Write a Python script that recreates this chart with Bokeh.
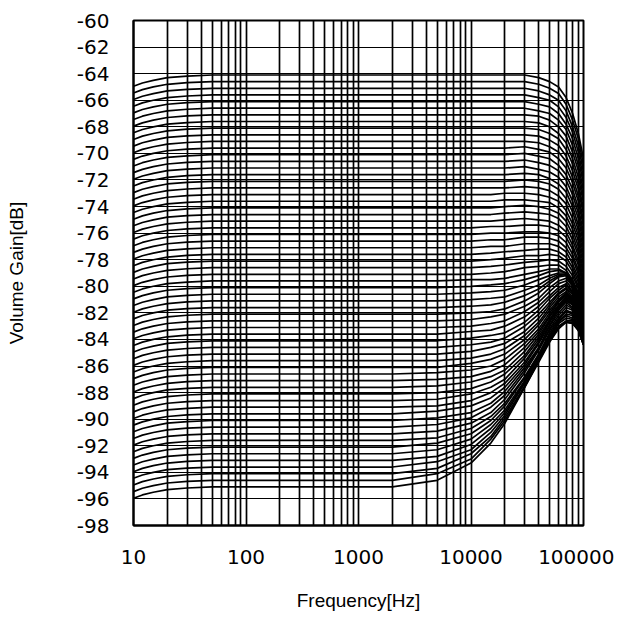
from bokeh.plotting import figure
from bokeh.models import FixedTicker, Range1d, ColumnDataSource
from bokeh.embed import file_html
from bokeh.resources import INLINE

# flat (mid-band) gain of every volume step, dB
levels = [-64.1, -64.6, -65.1, -65.6, -66.1, -66.6, -67.1, -67.6, -68.1, -68.6,
          -69.1, -69.6, -70.1, -70.6, -71.1, -71.6, -72.1, -72.6, -73.1, -73.6,
          -74.1, -74.6, -75.1, -75.6, -76.1, -76.6, -77.1, -77.6, -78.1, -78.6,
          -79.1, -79.6, -80.1, -80.6, -81.1, -81.6, -82.1, -82.6, -83.1, -83.6,
          -84.1, -84.6, -85.1, -85.6, -86.1, -86.6, -87.1, -87.6, -88.1, -88.6,
          -89.1, -89.6, -90.1, -90.6, -91.1, -91.6, -92.1, -92.6, -93.1, -93.6,
          -94.1, -94.6, -95.1]

lf_freqs = [10, 12, 15, 20, 30, 50]
lf_offsets = [-0.85, -0.6, -0.4, -0.2, -0.08, 0.0]

mid_freqs = [2000]

# high-frequency part of every curve, dB
hf_freqs = [5000, 10000, 15000, 20000, 30000, 40000, 50000, 60000, 70000, 80000, 90000, 100000]
hf_gain = [
    [-64.1, -64.1, -64.1, -64.1, -64.1, -64.3, -64.6, -65.0, -65.8, -67.0, -68.5, -70.4],
    [-64.6, -64.6, -64.6, -64.6, -64.6, -64.8, -65.1, -65.5, -66.3, -67.5, -68.9, -70.9],
    [-65.1, -65.1, -65.1, -65.1, -65.1, -65.3, -65.6, -66.0, -66.8, -68.0, -69.4, -71.4],
    [-65.6, -65.6, -65.6, -65.6, -65.6, -65.8, -66.0, -66.5, -67.3, -68.4, -69.9, -71.9],
    [-66.1, -66.1, -66.1, -66.1, -66.1, -66.3, -66.5, -67.0, -67.8, -68.9, -70.4, -72.3],
    [-66.6, -66.6, -66.6, -66.6, -66.6, -66.8, -67.0, -67.5, -68.2, -69.4, -70.9, -72.8],
    [-67.1, -67.1, -67.1, -67.1, -67.1, -67.2, -67.5, -68.0, -68.7, -69.9, -71.3, -73.3],
    [-67.6, -67.6, -67.6, -67.6, -67.6, -67.7, -68.0, -68.5, -69.2, -70.4, -71.8, -73.7],
    [-68.1, -68.1, -68.1, -68.1, -68.1, -68.2, -68.5, -68.9, -69.7, -70.8, -72.3, -74.2],
    [-68.6, -68.6, -68.6, -68.6, -68.6, -68.7, -69.0, -69.4, -70.2, -71.3, -72.7, -74.6],
    [-69.1, -69.1, -69.1, -69.1, -69.1, -69.2, -69.5, -69.9, -70.6, -71.8, -73.2, -75.1],
    [-69.6, -69.6, -69.6, -69.6, -69.5, -69.7, -69.9, -70.4, -71.1, -72.2, -73.6, -75.5],
    [-70.1, -70.1, -70.1, -70.1, -70.0, -70.2, -70.4, -70.9, -71.6, -72.7, -74.1, -76.0],
    [-70.6, -70.6, -70.6, -70.6, -70.5, -70.7, -70.9, -71.3, -72.0, -73.1, -74.5, -76.4],
    [-71.1, -71.1, -71.1, -71.1, -71.0, -71.2, -71.4, -71.8, -72.5, -73.6, -74.9, -76.8],
    [-71.6, -71.6, -71.6, -71.6, -71.5, -71.6, -71.9, -72.3, -72.9, -74.0, -75.4, -77.2],
    [-72.1, -72.1, -72.1, -72.1, -72.0, -72.1, -72.3, -72.7, -73.4, -74.4, -75.8, -77.6],
    [-72.6, -72.6, -72.6, -72.6, -72.5, -72.6, -72.8, -73.2, -73.8, -74.9, -76.2, -78.0],
    [-73.1, -73.1, -73.1, -73.0, -73.0, -73.1, -73.3, -73.6, -74.3, -75.3, -76.6, -78.4],
    [-73.6, -73.6, -73.6, -73.5, -73.5, -73.6, -73.7, -74.1, -74.7, -75.7, -77.0, -78.8],
    [-74.1, -74.1, -74.1, -74.0, -73.9, -74.0, -74.2, -74.5, -75.1, -76.1, -77.4, -79.1],
    [-74.6, -74.6, -74.6, -74.5, -74.4, -74.5, -74.6, -74.9, -75.5, -76.5, -77.7, -79.5],
    [-75.1, -75.1, -75.1, -75.0, -74.9, -75.0, -75.1, -75.4, -75.9, -76.9, -78.1, -79.8],
    [-75.6, -75.6, -75.5, -75.5, -75.4, -75.4, -75.5, -75.8, -76.3, -77.2, -78.4, -80.1],
    [-76.1, -76.1, -76.0, -76.0, -75.9, -75.9, -76.0, -76.2, -76.7, -77.6, -78.8, -80.4],
    [-76.6, -76.6, -76.5, -76.5, -76.3, -76.3, -76.4, -76.6, -77.1, -77.9, -79.1, -80.7],
    [-77.1, -77.1, -77.0, -77.0, -76.8, -76.8, -76.8, -77.0, -77.4, -78.3, -79.4, -81.0],
    [-77.6, -77.6, -77.5, -77.4, -77.3, -77.2, -77.2, -77.4, -77.8, -78.6, -79.7, -81.3],
    [-78.1, -78.1, -78.0, -77.9, -77.7, -77.7, -77.6, -77.7, -78.1, -78.9, -80.0, -81.5],
    [-78.6, -78.6, -78.5, -78.4, -78.2, -78.1, -78.0, -78.1, -78.5, -79.2, -80.2, -81.8],
    [-79.1, -79.1, -79.0, -78.9, -78.6, -78.5, -78.4, -78.4, -78.8, -79.5, -80.5, -82.0],
    [-79.6, -79.5, -79.5, -79.4, -79.1, -78.9, -78.7, -78.7, -79.0, -79.6, -80.6, -82.2],
    [-80.1, -80.0, -79.9, -79.8, -79.5, -79.2, -78.9, -78.8, -79.0, -79.7, -80.8, -82.3],
    [-80.6, -80.5, -80.4, -80.3, -79.9, -79.5, -79.2, -79.0, -79.0, -79.7, -80.9, -82.5],
    [-81.1, -81.0, -80.9, -80.8, -80.3, -79.9, -79.4, -79.1, -79.1, -79.8, -81.0, -82.6],
    [-81.6, -81.5, -81.4, -81.2, -80.7, -80.2, -79.6, -79.2, -79.1, -79.9, -81.0, -82.7],
    [-82.1, -82.0, -81.9, -81.7, -81.1, -80.5, -79.8, -79.3, -79.2, -79.9, -81.1, -82.9],
    [-82.6, -82.5, -82.3, -82.1, -81.5, -80.9, -80.1, -79.6, -79.4, -80.0, -81.3, -83.0],
    [-83.1, -83.0, -82.8, -82.6, -81.9, -81.2, -80.4, -79.8, -79.6, -80.2, -81.4, -83.1],
    [-83.6, -83.4, -83.3, -83.0, -82.3, -81.5, -80.7, -80.1, -79.8, -80.4, -81.5, -83.2],
    [-84.1, -83.9, -83.7, -83.5, -82.7, -81.8, -80.9, -80.3, -79.9, -80.5, -81.7, -83.3],
    [-84.6, -84.4, -84.2, -83.9, -83.0, -82.1, -81.2, -80.5, -80.1, -80.6, -81.8, -83.4],
    [-85.1, -84.9, -84.6, -84.3, -83.4, -82.4, -81.4, -80.6, -80.2, -80.8, -81.9, -83.5],
    [-85.6, -85.4, -85.1, -84.7, -83.7, -82.7, -81.6, -80.8, -80.4, -80.9, -82.0, -83.6],
    [-86.1, -85.8, -85.5, -85.1, -84.0, -82.9, -81.8, -81.0, -80.5, -81.0, -82.0, -83.7],
    [-86.5, -86.3, -86.0, -85.5, -84.3, -83.2, -82.0, -81.1, -80.6, -81.1, -82.1, -83.7],
    [-87.0, -86.8, -86.4, -85.9, -84.6, -83.4, -82.2, -81.2, -80.7, -81.1, -82.2, -83.8],
    [-87.5, -87.2, -86.8, -86.3, -84.9, -83.6, -82.3, -81.4, -80.8, -81.2, -82.3, -83.8],
    [-88.0, -87.7, -87.2, -86.6, -85.2, -83.8, -82.5, -81.5, -80.9, -81.3, -82.3, -83.9],
    [-88.5, -88.1, -87.6, -87.0, -85.4, -84.0, -82.6, -81.6, -81.0, -81.4, -82.4, -83.9],
    [-89.0, -88.6, -88.0, -87.3, -85.7, -84.2, -82.7, -81.7, -81.1, -81.4, -82.4, -84.0],
    [-89.4, -89.0, -88.4, -87.6, -85.9, -84.3, -82.9, -81.8, -81.2, -81.6, -82.5, -84.0],
    [-89.9, -89.5, -88.8, -87.9, -86.1, -84.6, -83.0, -82.0, -81.4, -81.7, -82.6, -84.0],
    [-90.4, -89.9, -89.1, -88.2, -86.3, -84.7, -83.2, -82.2, -81.6, -81.8, -82.7, -84.1],
    [-90.9, -90.3, -89.5, -88.5, -86.5, -84.8, -83.3, -82.4, -81.8, -82.0, -82.7, -84.2],
    [-91.4, -90.7, -89.8, -88.8, -86.8, -85.1, -83.5, -82.5, -81.9, -82.1, -82.9, -84.2],
    [-91.8, -91.1, -90.1, -89.0, -86.9, -85.2, -83.7, -82.6, -82.1, -82.2, -83.0, -84.2],
    [-92.3, -91.5, -90.4, -89.3, -87.1, -85.2, -83.7, -82.7, -82.2, -82.4, -83.0, -84.2],
    [-92.8, -91.9, -90.7, -89.5, -87.2, -85.3, -83.9, -82.8, -82.4, -82.5, -83.1, -84.3],
    [-93.2, -92.3, -91.0, -89.7, -87.3, -85.5, -83.9, -83.0, -82.6, -82.6, -83.1, -84.4],
    [-93.7, -92.6, -91.3, -89.9, -87.5, -85.6, -84.1, -83.1, -82.7, -82.7, -83.3, -84.4],
    [-94.1, -93.0, -91.5, -90.1, -87.6, -85.6, -84.1, -83.1, -82.7, -82.8, -83.3, -84.4],
    [-94.6, -93.3, -91.8, -90.3, -87.6, -85.7, -84.2, -83.2, -82.7, -82.8, -83.3, -84.4],
]

x_major = [10, 100, 1000, 10000, 100000]
x_labels = ["10", "100", "1000", "10000", "100000"]
y_ticks = list(range(-98, -59, 2))
y_labels = ["-%d" % (-t) for t in y_ticks]

xs, ys = [], []
for lvl, row in zip(levels, hf_gain):
    xs.append(lf_freqs + mid_freqs + hf_freqs)
    ys.append([lvl + o for o in lf_offsets] + [lvl] + row)
src = ColumnDataSource(dict(xs=xs, ys=ys))

TICK_FONT = "DejaVu Sans"
LABEL_FONT = "Liberation Sans"

p = figure(width=614, height=614,
           x_axis_type="log", x_range=Range1d(10, 100000), y_range=Range1d(-98, -60),
           output_backend="svg", toolbar_location=None,
           min_border_left=133, min_border_right=31, min_border_top=20, min_border_bottom=89)
p.background_fill_color = "white"
p.border_fill_color = "white"
p.outline_line_color = "black"
p.outline_line_width = 2

minor = []
for dec in [10, 100, 1000, 10000]:
    for m in range(2, 10):
        minor.append(dec * m)
p.xaxis.ticker = FixedTicker(ticks=x_major, minor_ticks=minor)
p.xaxis.major_label_overrides = {v: s for v, s in zip(x_major, x_labels)}
p.yaxis.ticker = FixedTicker(ticks=y_ticks)
p.yaxis.major_label_overrides = {v: s for v, s in zip(y_ticks, y_labels)}

p.xgrid.grid_line_color = "black"
p.xgrid.grid_line_width = 1.7
p.xgrid.minor_grid_line_color = "black"
p.xgrid.minor_grid_line_width = 1.7
p.ygrid.grid_line_color = "black"
p.ygrid.grid_line_width = 1

for ax in (p.xaxis[0], p.yaxis[0]):
    ax.axis_line_color = "black"
    ax.axis_line_width = 2
    ax.major_tick_line_color = None
    ax.minor_tick_line_color = None
    ax.major_tick_out = 0
    ax.major_tick_in = 0
    ax.minor_tick_out = 0
    ax.minor_tick_in = 0
    ax.major_label_text_font = TICK_FONT
    ax.major_label_text_font_size = "20px"
    ax.major_label_text_color = "black"
    ax.axis_label_text_font = LABEL_FONT
    ax.axis_label_text_font_size = "19px"
    ax.axis_label_text_font_style = "normal"
    ax.axis_label_text_color = "black"

p.xaxis.axis_label = "Frequency[Hz]"
p.yaxis.axis_label = "Volume Gain[dB]"
p.xaxis.major_label_standoff = 24
p.yaxis.major_label_standoff = 24
p.xaxis.axis_label_standoff = 23
p.yaxis.axis_label_standoff = 47

p.multi_line(xs="xs", ys="ys", source=src, line_color="black", line_width=1.7)

open("out.html", "w").write(file_html(p, INLINE))
